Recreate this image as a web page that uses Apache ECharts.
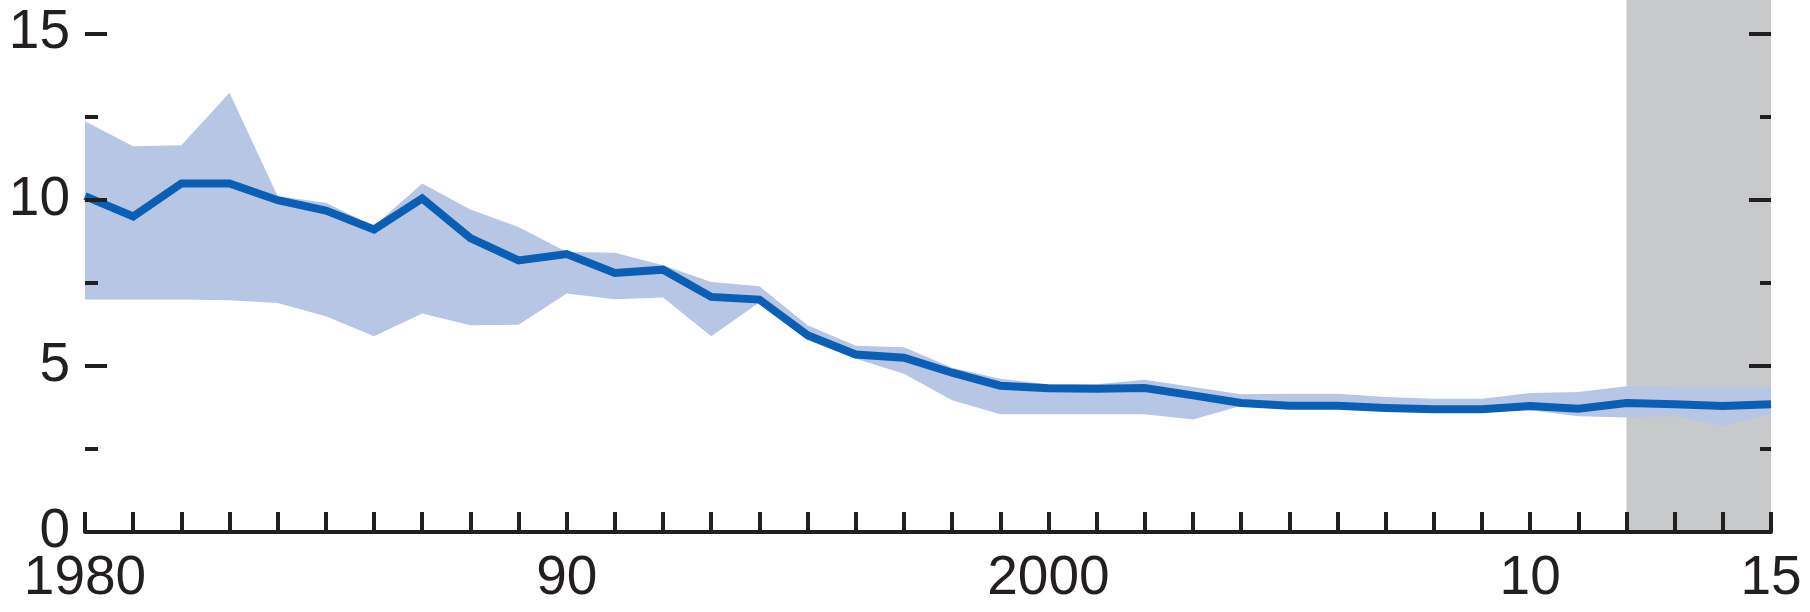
<!DOCTYPE html>
<html>
<head>
<meta charset="utf-8">
<title>chart</title>
<script src="https://cdn.jsdelivr.net/npm/echarts@6/dist/echarts.min.js"></script>
<style>
  html, body { margin: 0; padding: 0; background: #fff; }
  #myChart { width: 1810px; height: 612px; }
</style>
</head>
<body>
<div id="myChart"></div>
<script>
// 年份 1980-2015
var years = []
for (var y = 1980; y <= 2015; y++) years.push(String(y))

// 中线
var lineVals = [10.1, 9.49, 10.48, 10.48, 9.98, 9.67, 9.1, 10.03, 8.84, 8.17,
  8.36, 7.79, 7.89, 7.07, 6.99, 5.92, 5.34, 5.24, 4.79, 4.4,
  4.32, 4.31, 4.33, 4.11, 3.88, 3.8, 3.8, 3.73, 3.69, 3.69,
  3.79, 3.71, 3.88, 3.84, 3.79, 3.84]
// 区间上沿
var upperVals = [12.35, 11.6, 11.63, 13.21, 10.1, 9.9, 9.2, 10.48, 9.7, 9.17,
  8.42, 8.4, 8.02, 7.52, 7.39, 6.22, 5.6, 5.56, 4.94, 4.61,
  4.44, 4.44, 4.58, 4.36, 4.14, 4.16, 4.16, 4.06, 4.01, 4.01,
  4.18, 4.21, 4.38, 4.36, 4.36, 4.36]
// 区间下沿
var lowerVals = [6.99, 6.99, 6.99, 6.97, 6.89, 6.49, 5.89, 6.57, 6.22, 6.23,
  7.17, 7.0, 7.05, 5.89, 6.9, 5.77, 5.21, 4.76, 3.96, 3.54,
  3.54, 3.54, 3.54, 3.38, 3.8, 3.72, 3.72, 3.65, 3.61, 3.61,
  3.66, 3.48, 3.44, 3.48, 3.18, 3.54]

// x 轴标签
var xLabelYears = ['1980', '1990', '2000', '2010', '2015']
var xLabelText = ['1980', '90', '2000', '10', '15']
// y 轴刻度
var yMajor = [0, 5, 10, 15]
var yMinor = [2.5, 7.5, 12.5]
var yMax = 16
// 阴影区间 (预测期)
var shadeFrom = 2012
var shadeTo = 2015

var spreadVals = upperVals.map(function (v, i) {
  return +(v - lowerVals[i]).toFixed(3)
})
// 阴影：整列填满
var shadeVals = years.map(function (yr) {
  return (+yr >= shadeFrom && +yr <= shadeTo) ? yMax : '-'
})

var ink = '#231f20'
var font = "'Liberation Sans', Arial, sans-serif"

function yAxisDef(pos, ticks, len, labels) {
  return {
    type: 'value',
    position: pos,
    min: 0,
    max: yMax,
    z: 10,
    splitLine: { show: false },
    axisLine: { show: false },
    axisTick: {
      show: true,
      inside: true,
      length: len,
      customValues: ticks,
      lineStyle: { color: ink, width: 4 }
    },
    axisLabel: labels ? {
      show: true,
      customValues: labels,
      fontSize: 55,
      fontFamily: font,
      color: ink,
      margin: 15
    } : { show: false }
  }
}

var myChart = echarts.init(document.getElementById('myChart'))

var option = {
  animation: false,
  grid: { left: 85, right: 39, top: 0, bottom: 80 },
  xAxis: {
    type: 'category',
    data: years,
    boundaryGap: false,
    z: 10,
    axisLine: { lineStyle: { color: ink, width: 4 } },
    axisTick: {
      inside: true,
      length: 20,
      interval: 0,
      lineStyle: { color: ink, width: 4 }
    },
    axisLabel: {
      interval: function (i, v) { return xLabelYears.indexOf(v) >= 0 },
      formatter: function (v) { return xLabelText[xLabelYears.indexOf(v)] },
      fontSize: 55,
      fontFamily: font,
      color: ink,
      margin: 19
    },
    splitLine: { show: false }
  },
  yAxis: [
    yAxisDef('left', yMajor, 22, yMajor),
    yAxisDef('left', yMinor, 13, null),
    yAxisDef('right', [5, 10, 15], 22, null),
    yAxisDef('right', yMinor, 11, null)
  ],
  series: [
    {
      name: 'shade',
      type: 'line',
      data: shadeVals,
      symbol: 'none',
      lineStyle: { opacity: 0 },
      areaStyle: { color: '#c8c9cb', opacity: 1 },
      z: 1
    },
    {
      name: 'lower',
      type: 'line',
      stack: 'band',
      data: lowerVals,
      symbol: 'none',
      lineStyle: { opacity: 0 },
      z: 2
    },
    {
      name: 'band',
      type: 'line',
      stack: 'band',
      data: spreadVals,
      symbol: 'none',
      lineStyle: { opacity: 0 },
      areaStyle: { color: '#b8c6e6', opacity: 1 },
      z: 3
    },
    {
      name: 'line',
      type: 'line',
      data: lineVals,
      symbol: 'none',
      lineStyle: { color: '#0a5fb4', width: 8, join: 'miter' },
      z: 4
    }
  ]
}

myChart.setOption(option)
window.onresize = myChart.resize
</script>
</body>
</html>
